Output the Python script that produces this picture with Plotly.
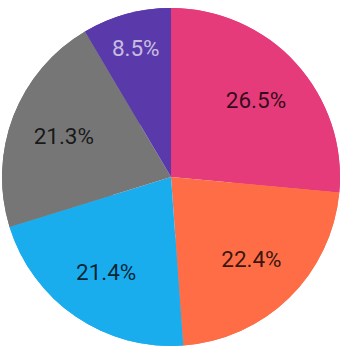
import plotly.graph_objects as go

labels = ["A", "B", "C", "D", "E"]
values = [26.5, 22.4, 21.4, 21.3, 8.5]
text_labels = ["26.5%", "22.4%", "21.4%", "21.3%", "8.5%"]
colors = ["#E63B7A", "#FE6D46", "#1AADEE", "#767676", "#5A3AAA"]
text_colors = ["rgba(0,0,0,0.8)", "rgba(0,0,0,0.8)", "rgba(0,0,0,0.8)",
               "rgba(0,0,0,0.8)", "rgba(255,255,255,0.68)"]

W, H = 343, 348
cx, cy, r = 171, 177, 169
dom = dict(x=[(cx - r) / W, (cx + r) / W], y=[(H - cy - r) / H, (H - cy + r) / H])

common = dict(
    labels=labels, values=values, sort=False, direction="clockwise",
    rotation=0, marker=dict(colors=colors, line=dict(width=0)),
    hoverinfo="skip", domain=dom,
)

fig = go.Figure()
# full pie (fills centre)
fig.add_trace(go.Pie(textinfo="none", **common))
# ring on top carrying the labels, placed in the outer part of each slice
fig.add_trace(go.Pie(
    hole=0.36,
    text=text_labels,
    textinfo="text",
    textposition="inside",
    insidetextorientation="horizontal",
    textfont=dict(family="Roboto", size=22.5, color=text_colors),
    **common,
))
fig.update_layout(
    width=W, height=H,
    margin=dict(l=0, r=0, t=0, b=0),
    showlegend=False,
    paper_bgcolor="white",
)
fig.write_html("out.html")
